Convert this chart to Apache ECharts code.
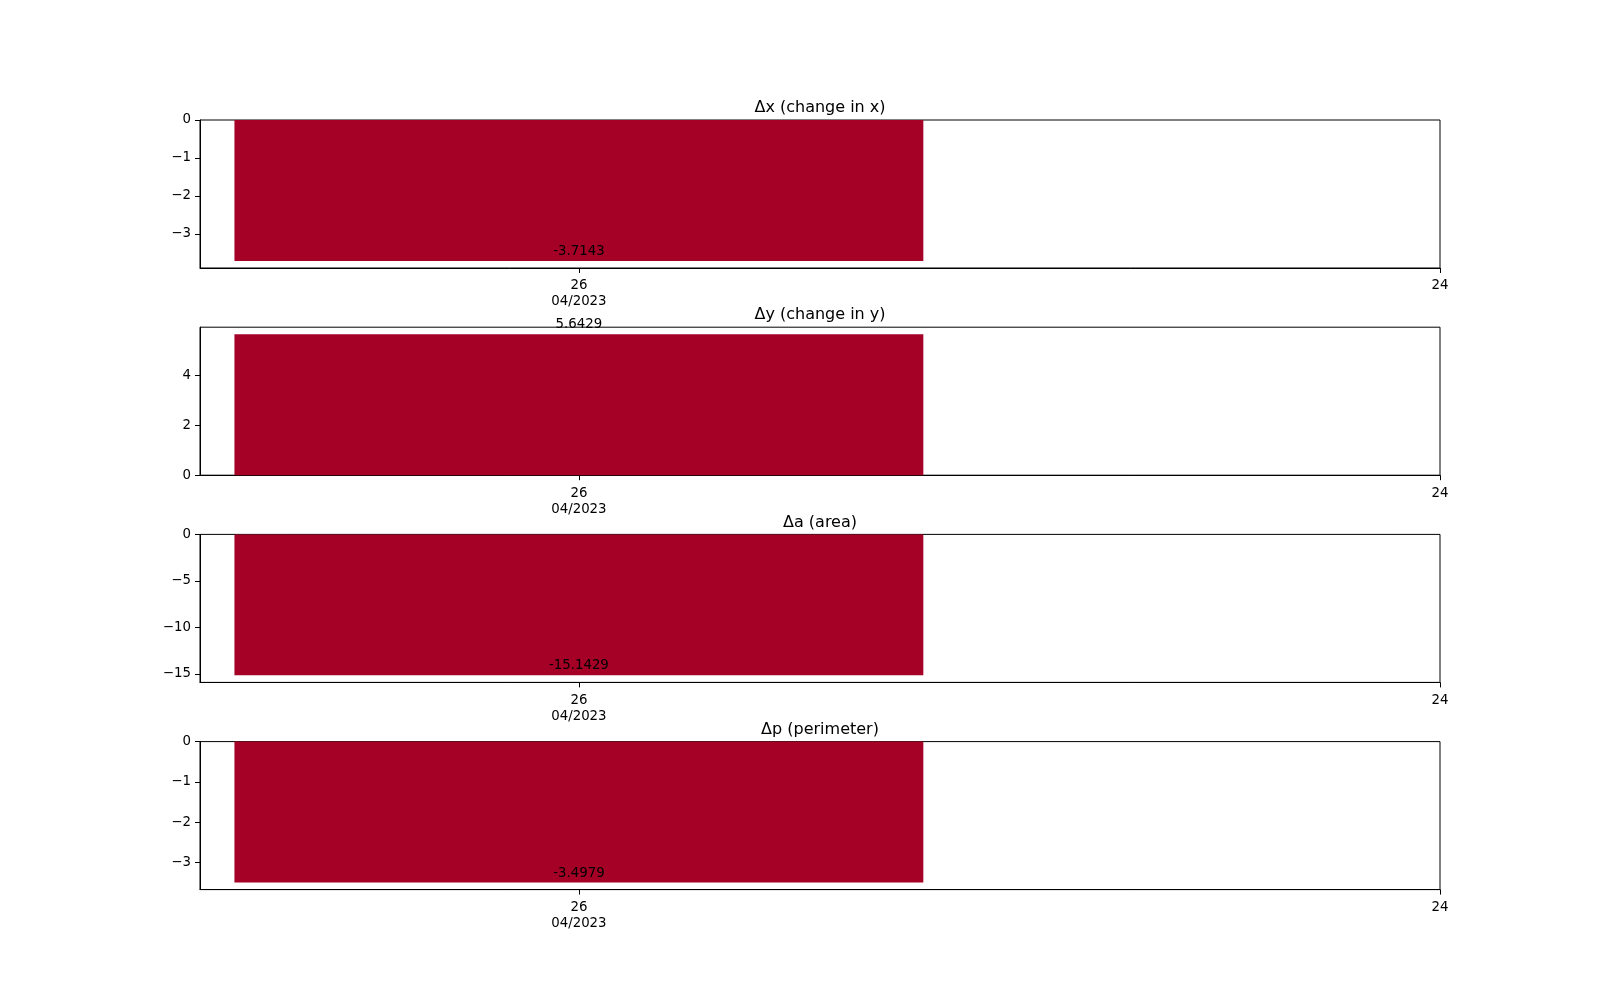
<!DOCTYPE html>
<html>
<head>
<meta charset="utf-8">
<script src="https://cdn.jsdelivr.net/npm/echarts@6/dist/echarts.min.js"></script>
<style>
html,body{margin:0;padding:0;background:#fff;}
#chart{width:1600px;height:1000px;}
</style>
</head>
<body>
<div id="chart"></div>
<script>
// ---- data ----
const dates = ['2023-04-26'];
const dayOffsets = [0];               // days from 2023-04-26
const titles = ['Δx (change in x)', 'Δy (change in y)', 'Δa (area)', 'Δp (perimeter)'];
const dxValues = [-3.7143];
const dyValues = [5.6429];
const daValues = [-15.1429];
const dpValues = [-3.4979];
const valueLabels = [['-3.7143'], ['5.6429'], ['-15.1429'], ['-3.4979']];
const xTickValues = [0, 1];
const xTickLabels = ['26\n04/2023', '24'];
const yTicks1 = [0, -1, -2, -3];
const yTicks2 = [0, 2, 4];
const yTicks3 = [0, -5, -10, -15];
const yTicks4 = [0, -1, -2, -3];
const xRange = [-0.44, 1.0];
const barWidthDays = 0.8;

const seriesValues = [dxValues, dyValues, daValues, dpValues];
const yTicksAll = [yTicks1, yTicks2, yTicks3, yTicks4];

const FONT = 'DejaVu Sans';
const BAR_COLOR = '#a50026';
const gridLeft = 200, gridWidth = 1240, gridTop0 = 120, gridH = 148, gridStep = 207.2;

function yLimits(vals) {
  const mx = Math.max(0, ...vals), mn = Math.min(0, ...vals);
  const span = mx - mn;
  return [mn < 0 ? mn - 0.05 * span : 0, mx > 0 ? mx + 0.05 * span : 0];
}

const grids = [], xAxes = [], yAxes = [], series = [], titleOpts = [];
for (let i = 0; i < 4; i++) {
  const top = gridTop0 + i * gridStep;
  grids.push({left: gridLeft, top: top, width: gridWidth, height: gridH,
    show: true, borderColor: '#000', borderWidth: 1, backgroundColor: 'transparent', containLabel: false});
  titleOpts.push({text: titles[i], left: gridLeft + gridWidth / 2, top: top - 20, textAlign: 'center', padding: 0,
    textStyle: {fontFamily: FONT, fontSize: 16, fontWeight: 'normal', color: '#000'}});
  xAxes.push({type: 'value', gridIndex: i, min: xRange[0], max: xRange[1],
    splitLine: {show: false},
    axisLine: {show: true, onZero: false, lineStyle: {color: '#000', width: 1}},
    axisTick: {show: true, customValues: xTickValues, length: 5, inside: false, lineStyle: {color: '#000'}},
    axisLabel: {show: true, customValues: xTickValues, margin: 10, color: '#000', fontFamily: FONT, fontSize: 13.33,
      lineHeight: 16,
      formatter: v => { const k = xTickValues.indexOf(v); return k >= 0 ? xTickLabels[k] : ''; }}
  });
  const lim = yLimits(seriesValues[i]);
  const ticks = yTicksAll[i];
  yAxes.push({type: 'value', gridIndex: i, min: lim[0], max: lim[1],
    splitLine: {show: false},
    axisLine: {show: true, onZero: false, lineStyle: {color: '#000', width: 1}},
    axisTick: {show: true, customValues: ticks, length: 5, lineStyle: {color: '#000'}},
    axisLabel: {show: true, customValues: ticks, margin: 9, color: '#000', fontFamily: FONT, fontSize: 13.33,
      verticalAlign: 'middle', padding: [4, 0, 0, 0],
      formatter: v => (v < 0 ? '\u2212' + Math.abs(v) : String(v))}
  });
  const data = dayOffsets.map((d, k) => [d, seriesValues[i][k], valueLabels[i][k]]);
  series.push({type: 'custom', xAxisIndex: i, yAxisIndex: i, data: data, clip: false,
    renderItem: function (params, api) {
      const x = api.value(0), v = api.value(1);
      const p0 = api.coord([x - barWidthDays / 2, 0]);
      const p1 = api.coord([x + barWidthDays / 2, v]);
      const pc = api.coord([x, v]);
      return {type: 'group', children: [
        {type: 'rect', shape: {x: p0[0], y: Math.min(p0[1], p1[1]), width: p1[0] - p0[0], height: Math.abs(p1[1] - p0[1])},
          style: {fill: BAR_COLOR}},
        {type: 'text', x: pc[0], y: pc[1] - 3, z2: 10,
          style: {text: data[params.dataIndex][2], fill: '#000', font: '13.33px "DejaVu Sans"', align: 'center', verticalAlign: 'bottom'}}
      ]};
    }
  });
}

const chart = echarts.init(document.getElementById('chart'), null, {renderer: 'canvas'});
chart.setOption({
  animation: false,
  backgroundColor: '#fff',
  title: titleOpts,
  grid: grids,
  xAxis: xAxes,
  yAxis: yAxes,
  series: series
});
</script>
</body>
</html>
